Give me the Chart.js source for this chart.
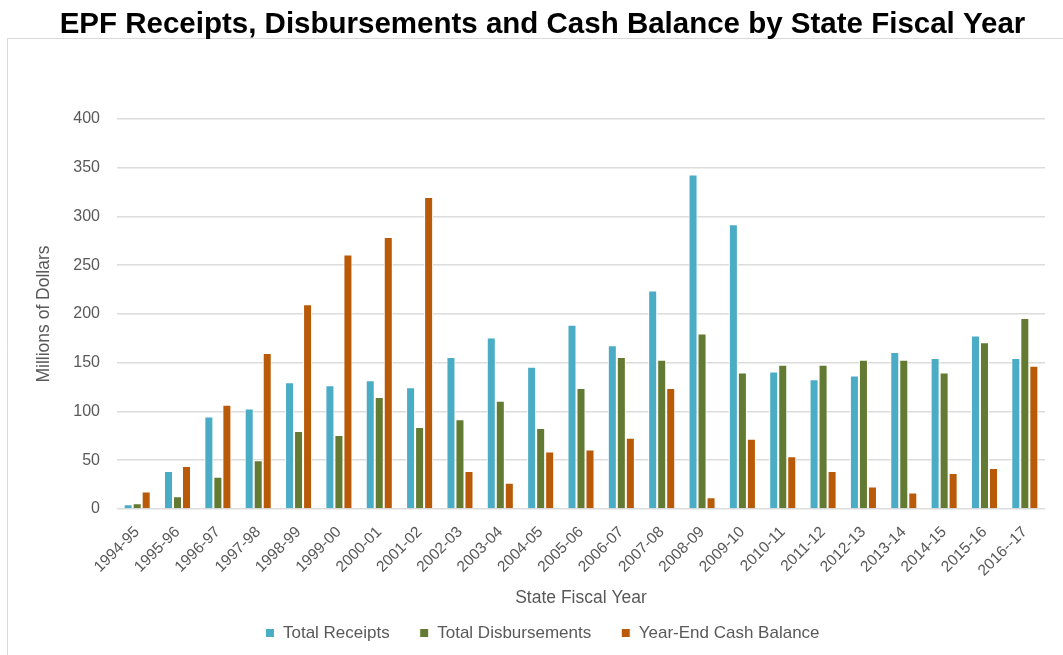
<!DOCTYPE html>
<html>
<head>
<meta charset="utf-8">
<script src="https://cdn.jsdelivr.net/npm/chart.js@4.4.1/dist/chart.umd.min.js"></script>
<style>
  html, body { margin: 0; padding: 0; background: #ffffff; }
  #wrap { width: 1063px; height: 655px; }
</style>
</head>
<body>
<div id="wrap"><canvas id="c" width="1063" height="655"></canvas></div>
<script>
const fiscalYears = ['1994-95','1995-96','1996-97','1997-98','1998-99','1999-00','2000-01','2001-02','2002-03','2003-04','2004-05','2005-06','2006-07','2007-08','2008-09','2009-10','2010-11','2011-12','2012-13','2013-14','2014-15','2015-16','2016--17'];
const totalReceipts = [5,39,95,103,130,127,132,125,156,176,146,189,168,224,343,292,141,133,137,161,155,178,155];
const totalDisbursements = [6,13,33,50,80,76,115,84,92,111,83,124,156,153,180,140,148,148,153,153,140,171,196];
const yearEndCashBalance = [18,44,107,160,210,261,279,320,39,27,59,61,73,124,12,72,54,39,23,17,37,42,147];
const yTicks = [0,50,100,150,200,250,300,350,400];

const FONT = "'Liberation Sans', Arial, sans-serif";
const TEXT = '#595959';
const PAD_LEFT = 40;

const framePlugin = {
  id: 'frame',
  beforeDraw(chart) {
    const ctx = chart.ctx;
    ctx.save();
    ctx.strokeStyle = '#d9d9d9';
    ctx.lineWidth = 1;
    ctx.beginPath();
    ctx.moveTo(7.5, 655);
    ctx.lineTo(7.5, 38.5);
    ctx.lineTo(1063, 38.5);
    ctx.stroke();
    ctx.restore();
  }
};

new Chart(document.getElementById('c'), {
  type: 'bar',
  data: {
    labels: fiscalYears,
    datasets: [
      { label: 'Total Receipts', data: totalReceipts, backgroundColor: '#4BACC6' },
      { label: 'Total Disbursements', data: totalDisbursements, backgroundColor: '#627A31' },
      { label: 'Year-End Cash Balance', data: yearEndCashBalance, backgroundColor: '#B85A08' }
    ]
  },
  options: {
    responsive: false,
    animation: false,
    devicePixelRatio: 1,
    layout: { padding: { left: PAD_LEFT, right: 18, top: 0, bottom: 3.5 } },
    datasets: {
      bar: { categoryPercentage: 0.67, barPercentage: 1, borderColor: '#ffffff', borderWidth: 1 }
    },
    plugins: {
      title: {
        display: true,
        text: 'EPF Receipts, Disbursements and Cash Balance by State Fiscal Year',
        color: '#000000',
        font: { family: FONT, size: 29.5, weight: 'bold' },
        padding: { top: 7, bottom: 76.6 }
      },
      legend: {
        position: 'bottom',
        labels: {
          color: TEXT,
          font: { family: FONT, size: 17 },
          boxWidth: 9,
          boxHeight: 9,
          padding: 30
        }
      },
      tooltip: { enabled: false }
    },
    scales: {
      x: {
        grid: { display: false },
        border: { display: false },
        ticks: {
          color: TEXT,
          font: { family: FONT, size: 15.5 },
          maxRotation: 45,
          minRotation: 45,
          autoSkip: false,
          padding: 6
        },
        title: {
          display: true,
          text: 'State Fiscal Year',
          color: TEXT,
          font: { family: FONT, size: 17.5 },
          padding: { top: 0, bottom: -14 }
        },
        afterFit(scale) { scale.height = 85.5; }
      },
      y: {
        min: 0,
        max: 400,
        grid: { color: '#dcdcdc', lineWidth: 1.6, drawTicks: false },
        border: { display: false },
        afterBuildTicks(scale) { scale.ticks = yTicks.map(v => ({ value: v })); },
        ticks: {
          color: TEXT,
          font: { family: FONT, size: 16 },
          padding: 17
        },
        title: {
          display: true,
          text: 'Millions of Dollars',
          color: TEXT,
          font: { family: FONT, size: 17.5 },
          padding: { top: -6.5, bottom: 0 }
        },
        afterFit(scale) { scale.width = 117 - PAD_LEFT; }
      }
    }
  },
  plugins: [framePlugin]
});
</script>
</body>
</html>
